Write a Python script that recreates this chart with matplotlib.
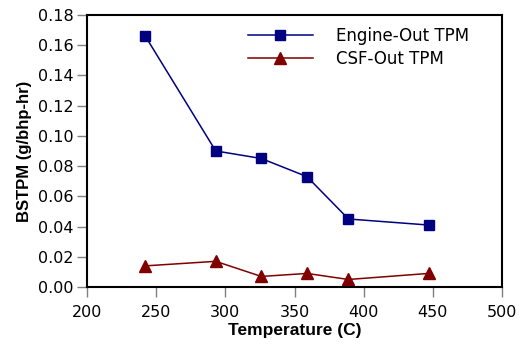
import matplotlib.pyplot as plt

plt.rcParams['font.family'] = ['Liberation Sans', 'DejaVu Sans']

temp = [242, 293, 326, 359, 389, 447]
engine_out = [0.166, 0.090, 0.085, 0.073, 0.045, 0.041]
csf_out = [0.014, 0.017, 0.007, 0.009, 0.005, 0.009]

fig = plt.figure(figsize=(5.25, 3.45), dpi=100)
ax = fig.add_axes([0.166, 0.168, 0.790, 0.789])

ax.plot(temp, engine_out, color='#000080', marker='s', markersize=7.5, lw=1.1,
        label='Engine-Out TPM')
ax.plot(temp, csf_out, color='#800000', marker='^', markersize=9, lw=1.1,
        label='CSF-Out TPM')

ax.set_xlim(200, 500)
ax.set_ylim(0, 0.18)
ax.set_xticks([200, 250, 300, 350, 400, 450, 500])
ax.set_yticks([0.00, 0.02, 0.04, 0.06, 0.08, 0.10, 0.12, 0.14, 0.16, 0.18])
ax.yaxis.set_major_formatter(plt.FormatStrFormatter('%.2f'))
ax.tick_params(length=7, width=1, color='#808080', direction='out')
ax.tick_params(axis='x', pad=6)
ax.tick_params(axis='y', pad=3)
for lab in ax.get_xticklabels() + ax.get_yticklabels():
    lab.set_family('DejaVu Sans')
    lab.set_fontsize(11.5)
for s in ax.spines.values():
    s.set_linewidth(1.5)

ax.set_xlabel('Temperature (C)', fontsize=12.5, fontweight='bold', labelpad=2)
ax.set_ylabel('BSTPM (g/bhp-hr)', fontsize=12, fontweight='bold', labelpad=4)

ax.legend(loc='upper left', frameon=False, prop={'family': 'DejaVu Sans', 'size': 12},
          handlelength=3.9, handletextpad=1.4, borderaxespad=0, labelspacing=0.3,
          bbox_to_anchor=(0.371, 0.98))

fig.savefig('out.png', dpi=100)
